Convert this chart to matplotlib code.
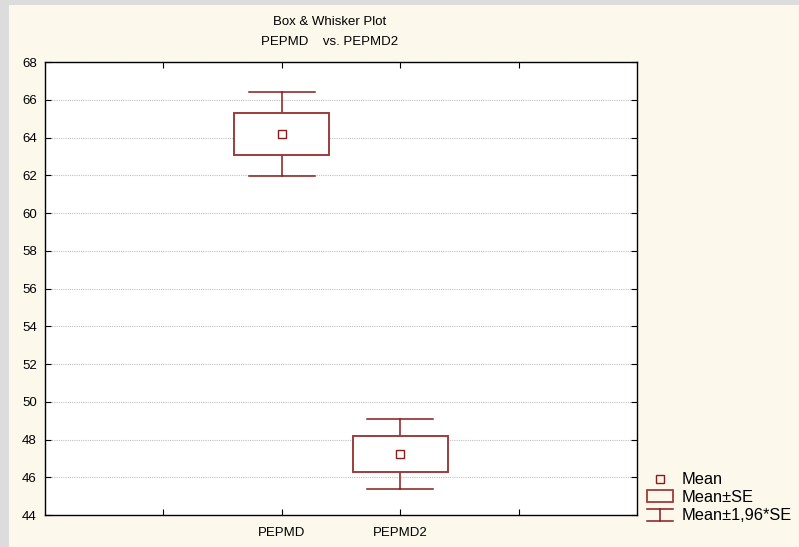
import matplotlib.pyplot as plt
from matplotlib.patches import Rectangle
from matplotlib.lines import Line2D

plt.rcParams['font.family'] = ['Liberation Sans', 'DejaVu Sans']

# data: mean and standard error per variable
categories = ['PEPMD', 'PEPMD2']
positions = [2, 3]
means = [64.18, 47.22]
se = [1.13, 0.95]
z = 1.96

dark_red = '#8B1A1A'
box_red = '#9E3C3C'
cream = '#FDF8EC'

fig = plt.figure(figsize=(7.99, 5.47), dpi=100, facecolor='#DCDCDC')
W, H = 799, 547
# cream panel, gray strip only at left and top
fig.patches.append(Rectangle((9 / W, 0), 1, 1 - 5 / H, transform=fig.transFigure,
                             facecolor=cream, edgecolor='none', zorder=-10))

ax = fig.add_axes([45 / W, 1 - 515 / H, 592 / W, 453 / H])
ax.set_facecolor('white')

for x, m, s in zip(positions, means, se):
    # whisker (mean +- 1.96*SE)
    lo, hi = m - z * s, m + z * s
    ax.plot([x, x], [lo, m - s], color=dark_red, lw=1.1, zorder=3)
    ax.plot([x, x], [m + s, hi], color=dark_red, lw=1.1, zorder=3)
    ax.plot([x - 0.28, x + 0.28], [lo, lo], color=dark_red, lw=1.1, zorder=3)
    ax.plot([x - 0.28, x + 0.28], [hi, hi], color=dark_red, lw=1.1, zorder=3)
    # box (mean +- SE)
    ax.add_patch(Rectangle((x - 0.4, m - s), 0.8, 2 * s, facecolor='white',
                           edgecolor=box_red, lw=1.4, zorder=3))
    # mean
    ax.plot(x, m, marker='s', ms=6, mfc='white', mec=dark_red, mew=1.0, zorder=4)

ax.set_xlim(0, 5)
ax.set_ylim(44, 68)
ax.set_yticks(range(44, 69, 2))
ax.set_xticks([1, 2, 3, 4])
ax.set_xticklabels(['', categories[0], categories[1], ''])
ax.tick_params(direction='in', length=4, width=0.8, colors='black',
               top=True, right=True, labelsize=9.5, pad=6)
ax.tick_params(axis='x', pad=9)
ax.yaxis.grid(True, color='#C0C0C0', linestyle=(0, (1, 1)), linewidth=0.8)
ax.set_axisbelow(True)
for sp in ax.spines.values():
    sp.set_linewidth(1.0)

fig.text(330 / W, 1 - 22 / H, 'Box & Whisker Plot', ha='center', va='center', fontsize=9.5)
fig.text(330 / W, 1 - 42 / H, 'PEPMD    vs. PEPMD2', ha='center', va='center', fontsize=9.5)

# legend drawn in figure pixel coordinates
lg = fig.add_axes([0, 0, 1, 1], facecolor='none')
lg.set_xlim(0, W)
lg.set_ylim(H, 0)
lg.axis('off')
lg.plot(660, 479, marker='s', ms=6, mfc='none', mec=dark_red, mew=1.0)
lg.add_patch(Rectangle((647, 490), 26, 12, facecolor='none', edgecolor=box_red, lw=1.3))
lg.add_line(Line2D([647, 673], [509, 509], color=dark_red, lw=1.1))
lg.add_line(Line2D([647, 673], [521, 521], color=dark_red, lw=1.1))
lg.add_line(Line2D([660, 660], [509, 521], color=dark_red, lw=1.1))
for ty, txt in [(479, 'Mean'), (497, 'Mean±SE'), (515, 'Mean±1,96*SE')]:
    lg.text(682, ty, txt, ha='left', va='center', fontsize=11.8)

fig.savefig('out.png', dpi=100, facecolor=fig.get_facecolor())
